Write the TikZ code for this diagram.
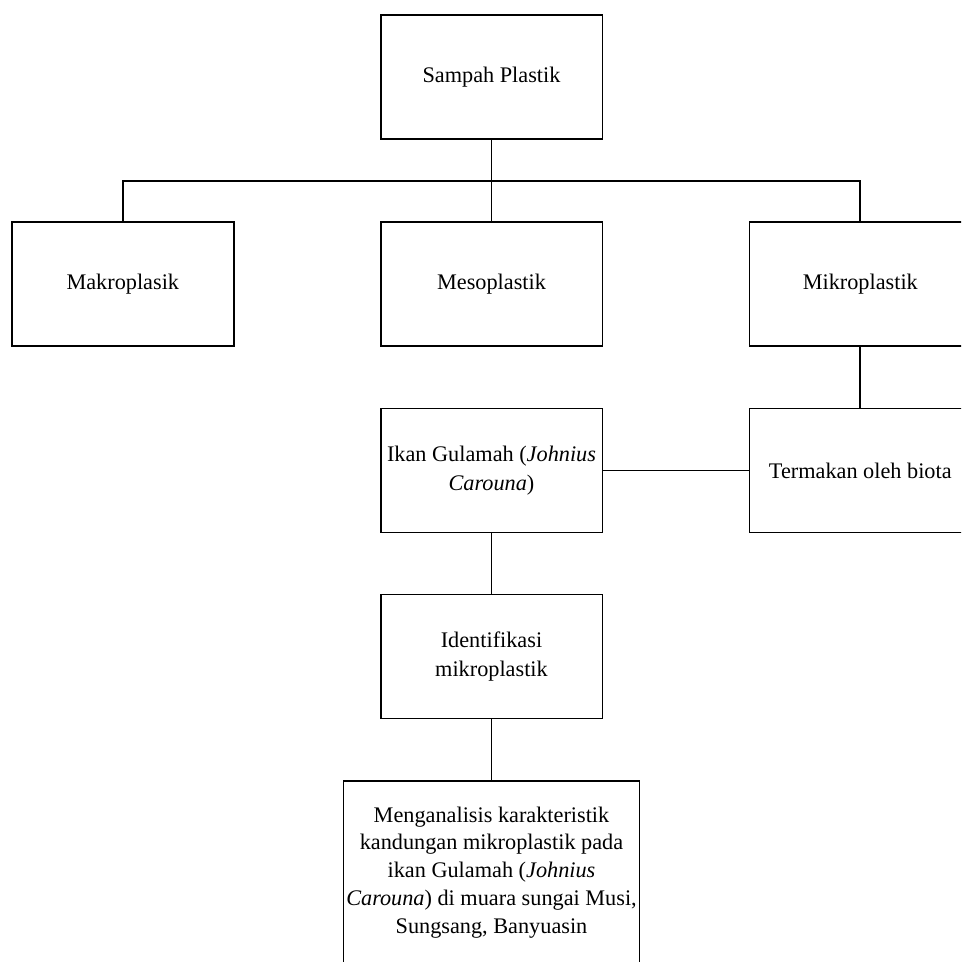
\documentclass[tikz,border=0pt]{standalone}
\usepackage{fontspec}
\setmainfont{Liberation Serif}
\begin{document}
\begin{tikzpicture}[x=0.75pt,y=-0.75pt,
  box/.style={draw=black,line width=1.3pt,rectangle,inner sep=2pt,align=center,
    minimum width=166.3pt,minimum height=93pt,
    font=\fontsize{16.7}{21.5}\selectfont},
  conn/.style={draw=black,line width=1.3pt}]
\useasboundingbox (0,0) rectangle (961,962);
\clip (0,0) rectangle (961,962);
\node[box] (sampah) at (491.5,77) {Sampah Plastik};
\node[box] (makro) at (122.8,284) {Makroplasik};
\node[box] (meso) at (491.5,284) {Mesoplastik};
\node[box] (mikro) at (860.3,284) {Mikroplastik};
\node[box] (ikan) at (491.5,470.5) {Ikan Gulamah (\textit{Johnius}\\\textit{Carouna})};
\node[box] (termakan) at (860.3,470.5) {Termakan oleh biota};
\node[box] (ident) at (491.5,656.5) {Identifikasi\\mikroplastik};
\node[box,minimum width=221.8pt,minimum height=137.7pt,font=\fontsize{16.7}{20.9}\selectfont] (analisis) at (491.5,872.5)
  {Menganalisis karakteristik\\kandungan mikroplastik pada\\ikan Gulamah (\textit{Johnius}\\\textit{Carouna}) di muara sungai Musi,\\Sungsang, Banyuasin};
\coordinate (bus) at (491.5,181);
\draw[conn] (sampah.south) -- (meso.north);
\draw[conn] (makro.north) |- (bus) -| (mikro.north);
\draw[conn] (mikro.south) -- (termakan.north);
\draw[conn] (termakan.west) -- (ikan.east);
\draw[conn] (ikan.south) -- (ident.north);
\draw[conn] (ident.south) -- (analisis.north);
\end{tikzpicture}
\end{document}
